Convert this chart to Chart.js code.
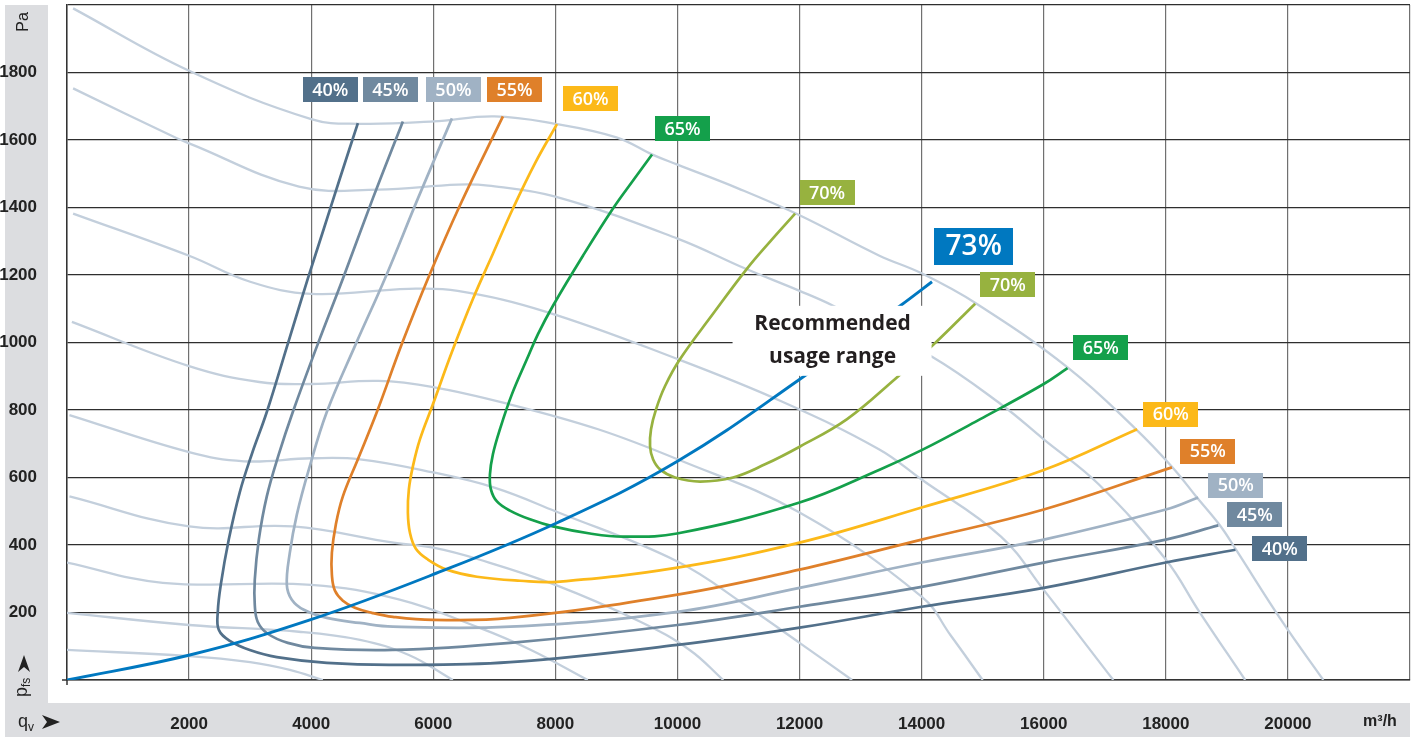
<!DOCTYPE html>
<html>
<head>
<meta charset="utf-8">
<script src="https://cdn.jsdelivr.net/npm/chart.js@4.4.1/dist/chart.umd.min.js"></script>
<style>
  html, body { margin: 0; padding: 0; background: #fff; }
  #wrap { width: 1415px; height: 740px; }
</style>
</head>
<body>
<div id="wrap"><canvas id="chart" width="1415" height="740"></canvas></div>
<script>
// axis ticks
const xTickLabels = [2000, 4000, 6000, 8000, 10000, 12000, 14000, 16000, 18000, 20000];
const yTickLabels = [200, 400, 600, 800, 1000, 1200, 1400, 1600, 1800];

// fan curves (qv m3/h, pfs Pa), top speed first
const speedA = [[100,1990],[2000,1805],[4000,1662],[4800,1648],[6000,1655],[7000,1670],[8000,1648],[9000,1608],[9600,1556],[10000,1527],[11000,1456],[12000,1377],[13300,1258],[14000,1205],[14900,1115],[16400,925],[17500,745],[18100,632],[18500,543],[18900,455],[19150,386],[19900,175],[20580,0]];
const speedB = [[100,1753],[1800,1605],[2000,1590],[3800,1462],[5100,1453],[6400,1468],[6900,1465],[8000,1432],[10000,1308],[11100,1220],[12000,1153],[12550,1109],[14150,960],[15300,817],[16000,713],[16900,580],[18000,357],[18550,202],[19300,0]];
const speedC = [[100,1382],[2000,1257],[3000,1180],[4000,1144],[5600,1159],[6400,1153],[7850,1091],[10000,951],[11700,826],[13300,684],[14000,594],[15300,425],[16000,267],[17140,0]];
const speedD = [[80,1061],[2000,930],[3150,883],[4000,877],[5100,886],[6000,868],[7250,817],[8700,743],[10000,654],[12000,496],[14000,247],[14480,131],[15000,0]];
const speedE = [[40,785],[2000,675],[2900,648],[4000,657],[4800,654],[6000,615],[7000,570],[8000,500],[10000,351],[11150,217],[12000,110],[12860,0]];
const speedF = [[40,544],[2000,455],[3700,455],[5350,407],[6000,392],[6750,357],[8000,282],[9400,172],[10200,89],[10750,0]];
const speedG = [[0,348],[1570,288],[4000,282],[5450,238],[6750,155],[7600,89],[8530,0]];
const speedH = [[0,199],[2000,163],[3800,143],[4800,119],[5600,74],[6320,0]];
const speedI = [[0,89],[2000,71],[3000,53],[3650,30],[4190,0]];

// efficiency contours
const eff40 = [[4765,1650],[4470,1486],[4207,1337],[3945,1189],[3617,996],[3273,794],[3027,669],[2830,556],[2650,416],[2519,282],[2470,202],[2486,149],[2667,116],[2994,89],[3437,68],[4256,51],[5338,45],[7260,53],[10000,104],[12000,155],[14000,217],[16000,273],[18000,348],[19140,386]];
const eff45 = [[5502,1655],[5010,1427],[4519,1189],[4109,996],[3699,794],[3470,669],[3273,544],[3142,416],[3076,297],[3076,223],[3125,172],[3289,137],[3617,110],[4060,95],[5338,89],[7260,110],[10000,163],[12000,217],[14000,276],[16000,348],[18000,416],[18860,458]];
const eff50 = [[6306,1664],[5749,1427],[5207,1189],[4732,996],[4256,794],[3962,624],[3765,490],[3650,377],[3601,282],[3683,238],[3880,208],[4256,184],[4797,169],[5338,158],[7260,158],[10000,202],[12000,273],[14000,348],[16000,416],[18000,505],[18530,541]];
const eff55 = [[7141,1670],[6436,1406],[5912,1189],[5486,996],[5076,794],[4765,654],[4519,544],[4404,461],[4339,377],[4339,312],[4388,265],[4519,235],[4716,214],[4994,199],[5338,187],[5994,178],[7256,184],[10000,253],[12000,327],[14000,416],[16000,505],[18100,630]];
const eff60 = [[8026,1647],[7666,1531],[7305,1397],[6977,1263],[6649,1129],[6305,972],[5994,817],[5781,713],[5666,633],[5600,565],[5584,496],[5617,437],[5715,389],[5912,357],[6223,327],[6715,306],[7420,294],[8026,291],[10000,333],[12000,407],[14000,511],[16000,622],[17530,743]];
const eff65 = [[9584,1557],[9273,1480],[8944,1397],[8452,1257],[7961,1109],[7715,1025],[7535,951],[7289,847],[7092,743],[6977,669],[6928,609],[6944,565],[7043,529],[7256,502],[7584,476],[7961,455],[8567,434],[9108,425],[9993,434],[12000,526],[13320,624],[14000,681],[14960,773],[16000,877],[16390,924]];
const eff70 = [[11927,1382],[11517,1299],[11140,1219],[10583,1085],[10043,951],[9797,871],[9649,802],[9567,743],[9551,692],[9600,654],[9715,624],[9961,600],[10371,588],[10911,600],[11435,639],[12009,692],[12779,773],[13566,892],[14172,990],[14877,1115]];
const eff73 = [[0,0],[2010,74],[3980,178],[5990,312],[8030,466],[10000,648],[12010,892],[13650,1109],[14170,1180]];

// curve labels (anchored at data values)
const labelText = ['40%','45%','50%','55%','60%','65%','70%','73%','70%','65%','60%','55%','50%','45%','40%'];
const labelX = [4314,5297,6330,7330,8575,10083,12451,14853,15410,16934,18082,18688,19147,19458,19868];
const labelY = [1749,1749,1749,1749,1722,1633,1444,1285,1172,984,788,678,577,490,389];
const noteLines = ['Recommended', 'usage range'];
const noteAt = [12541, 1005];

const effColors = {
  '40%': '#52708a', '45%': '#70899f', '50%': '#a0b2c4', '55%': '#df802a',
  '60%': '#fcb919', '65%': '#14a04b', '70%': '#97b23f', '73%': '#0078c0'
};
const GRAY = '#c3cfdc';
const NARROW = '"Liberation Sans Narrow", "Arial Narrow", "Liberation Sans", sans-serif';
const LABEL_FONT = '"Open Sans", "Noto Sans", sans-serif';

const toXY = arr => arr.map(p => ({ x: p[0], y: p[1] }));

const datasets = [];
[speedA, speedB, speedC, speedD, speedE, speedF, speedG, speedH, speedI].forEach(d => {
  datasets.push({ data: toXY(d), borderColor: GRAY, borderWidth: 2.3, order: 9 });
});
[['40%', eff40], ['45%', eff45], ['50%', eff50], ['55%', eff55], ['60%', eff60], ['65%', eff65], ['70%', eff70]].forEach(([k, d]) => {
  datasets.push({ data: toXY(d), borderColor: effColors[k], borderWidth: 2.7, order: 5 });
});
datasets.push({ data: toXY(eff73), borderColor: effColors['73%'], borderWidth: 2.9, order: 1 });

// gray frame, axis names, arrows
const framePlugin = {
  id: 'frame',
  beforeDraw(chart) {
    const c = chart.ctx;
    c.save();
    c.fillStyle = '#fff';
    c.fillRect(0, 0, chart.width, chart.height);
    c.fillStyle = '#dcdde0';
    c.fillRect(5, 5, 43, 699);
    c.fillRect(5, 703, 1405, 34);
    c.restore();
  },
  afterDraw(chart) {
    const c = chart.ctx;
    const a = chart.chartArea;
    c.save();
    c.strokeStyle = '#333';
    c.lineWidth = 1.5;
    c.beginPath();
    c.moveTo(a.left - 5, a.bottom); c.lineTo(a.left, a.bottom);
    c.moveTo(a.left, a.bottom); c.lineTo(a.left, a.bottom + 5);
    c.stroke();

    c.fillStyle = '#222';
    // Pa
    c.save();
    c.translate(28, 22);
    c.rotate(-Math.PI / 2);
    c.font = '16px ' + NARROW;
    c.textAlign = 'center';
    c.textBaseline = 'alphabetic';
    c.fillText('Pa', 0, 0);
    c.restore();

    // p_fs
    c.save();
    c.translate(27, 697);
    c.rotate(-Math.PI / 2);
    c.textAlign = 'left';
    c.font = '18px ' + NARROW;
    c.fillText('p', 0, 0);
    c.font = '12px ' + NARROW;
    c.fillText('fs', 10, 3);
    c.restore();
    c.beginPath();
    c.moveTo(24, 655); c.lineTo(30, 672); c.lineTo(24, 667); c.lineTo(18, 672);
    c.closePath(); c.fill();

    // q_v
    c.font = '18px ' + NARROW;
    c.textAlign = 'left';
    c.textBaseline = 'alphabetic';
    c.fillText('q', 18, 727);
    c.font = '12px ' + NARROW;
    c.fillText('v', 28, 731);
    c.beginPath();
    c.moveTo(60, 722); c.lineTo(42, 715); c.lineTo(47, 722); c.lineTo(42, 729);
    c.closePath(); c.fill();

    // unit
    c.font = 'bold 16px ' + NARROW;
    c.textAlign = 'center';
    c.textBaseline = 'middle';
    c.fillText('m³/h', 1380, 722);
    c.restore();
  }
};

// labels and the usage-range note
const notesPlugin = {
  id: 'notes',
  afterDatasetsDraw(chart) {
    const c = chart.ctx;
    const xs = chart.scales.x, ys = chart.scales.y;
    c.save();
    const nx = xs.getPixelForValue(noteAt[0]), ny = ys.getPixelForValue(noteAt[1]);
    c.fillStyle = '#fff';
    c.fillRect(nx - 100, ny - 35, 199, 70);
    c.fillStyle = '#231f20';
    c.font = 'bold 21px ' + LABEL_FONT;
    c.textAlign = 'center';
    c.textBaseline = 'middle';
    c.fillText(noteLines[0], nx, ny - 17);
    c.fillText(noteLines[1], nx, ny + 16);

    labelText.forEach((t, i) => {
      const px = xs.getPixelForValue(labelX[i]);
      const py = ys.getPixelForValue(labelY[i]);
      const big = t === '73%';
      const w = big ? 79 : 55, h = big ? 37 : 25;
      c.fillStyle = effColors[t];
      c.fillRect(Math.round(px - w / 2), Math.round(py - h / 2), w, h);
      c.fillStyle = '#fff';
      c.font = (big ? '600 28px ' : '600 18px ') + LABEL_FONT;
      c.fillText(t, px, py + 1);
    });
    c.restore();
  }
};

function noPad(s) {
  s.paddingTop = 0; s.paddingBottom = 0; s.paddingLeft = 0; s.paddingRight = 0;
}

new Chart(document.getElementById('chart').getContext('2d'), {
  type: 'scatter',
  data: { datasets },
  options: {
    responsive: false,
    animation: false,
    devicePixelRatio: 1,
    layout: { padding: { top: 5, right: 5, left: 0, bottom: 0 } },
    showLine: true,
    elements: {
      point: { radius: 0, hoverRadius: 0 },
      line: { tension: 0.4, fill: false, borderCapStyle: 'butt' }
    },
    plugins: { legend: { display: false }, tooltip: { enabled: false } },
    scales: {
      x: {
        type: 'linear', min: 0, max: 22000,
        afterFit(s) { s.height = 60; noPad(s); },
        grid: { color: '#707070', lineWidth: 1.2, drawTicks: false },
        border: { color: '#333', width: 1.5 },
        ticks: {
          stepSize: 2000, autoSkip: false, maxRotation: 0, padding: 34,
          color: '#222', font: { family: NARROW, size: 17, weight: 'bold' },
          callback: v => xTickLabels.includes(v) ? String(v) : ''
        }
      },
      y: {
        type: 'linear', min: 0, max: 2000,
        afterFit(s) { s.width = 67; noPad(s); },
        grid: { color: '#2e2e2e', lineWidth: 1.2, drawTicks: false },
        border: { color: '#333', width: 1.5 },
        ticks: {
          stepSize: 200, autoSkip: false, padding: 30,
          color: '#222', font: { family: NARROW, size: 17, weight: 'bold' },
          callback: v => yTickLabels.includes(v) ? String(v) : ''
        }
      }
    }
  },
  plugins: [framePlugin, notesPlugin]
});
</script>
</body>
</html>
